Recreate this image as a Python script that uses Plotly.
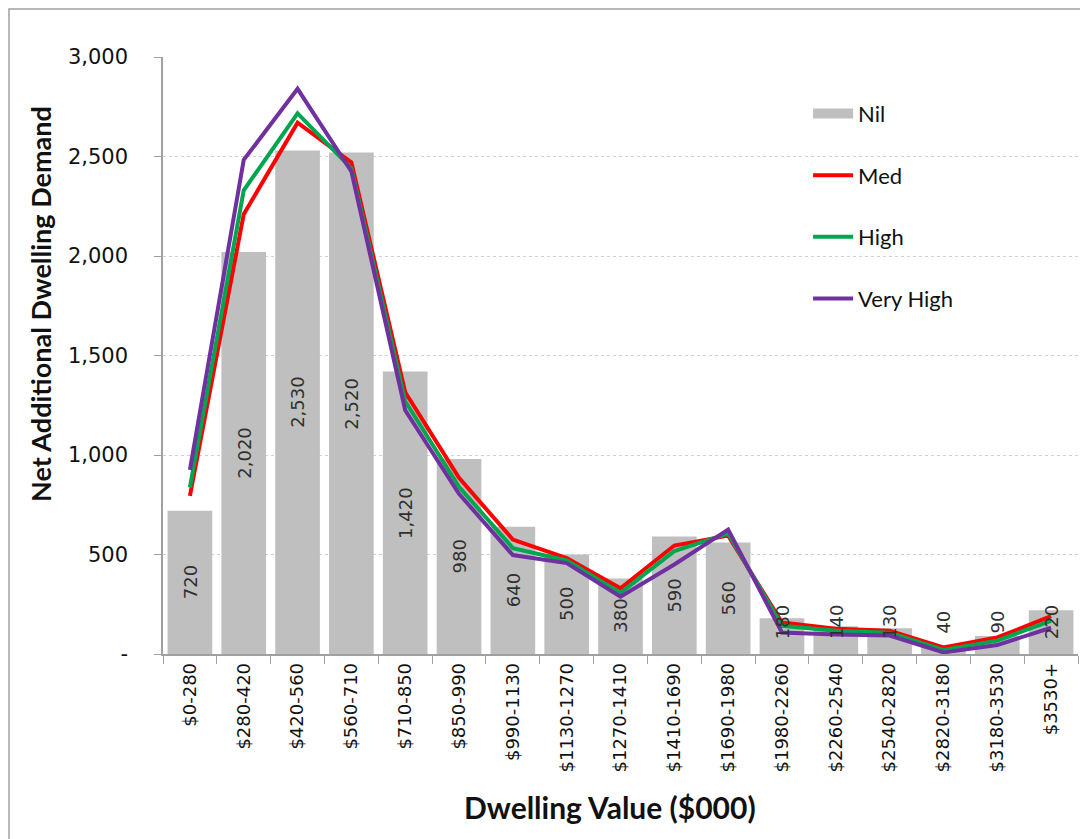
import plotly.graph_objects as go

categories = ["$0-280", "$280-420", "$420-560", "$560-710", "$710-850", "$850-990",
              "$990-1130", "$1130-1270", "$1270-1410", "$1410-1690", "$1690-1980",
              "$1980-2260", "$2260-2540", "$2540-2820", "$2820-3180", "$3180-3530", "$3530+"]
nil_values = [720, 2020, 2530, 2520, 1420, 980, 640, 500, 380, 590, 560, 180, 140, 130, 40, 90, 220]
med_values = [795, 2210, 2670, 2470, 1315, 885, 575, 482, 330, 545, 595, 158, 127, 117, 33, 83, 190]
high_values = [837, 2330, 2717, 2440, 1270, 840, 532, 470, 307, 517, 605, 142, 117, 107, 20, 67, 167]
vhigh_values = [925, 2483, 2840, 2425, 1225, 805, 497, 457, 288, 450, 625, 108, 98, 93, 8, 45, 132]
y_tick_vals = [0, 500, 1000, 1500, 2000, 2500, 3000]
y_tick_text = ["-", "500", "1,000", "1,500", "2,000", "2,500", "3,000"]
x_title = "Dwelling Value ($000)"
y_title = "Net Additional Dwelling Demand"

TICK_FONT = "DejaVu Sans"
TITLE_FONT = "Lato"
BAR_GREY = "#BFBFBF"

fig = go.Figure()
fig.add_trace(go.Bar(x=categories, y=nil_values, name="Nil", marker_color=BAR_GREY,
                     marker_line_width=0, showlegend=False))
# legend entry for the bars (wide grey swatch like the original)
fig.add_trace(go.Scatter(x=[None], y=[None], name="Nil", mode="lines",
                         line=dict(color=BAR_GREY, width=10), legendgroup="a"))
fig.add_trace(go.Scatter(x=categories, y=med_values, name="Med", mode="lines",
                         line=dict(color="#FF0000", width=4), legendgroup="b"))
fig.add_trace(go.Scatter(x=categories, y=high_values, name="High", mode="lines",
                         line=dict(color="#00A550", width=4), legendgroup="c"))
fig.add_trace(go.Scatter(x=categories, y=vhigh_values, name="Very High", mode="lines",
                         line=dict(color="#7030A0", width=4), legendgroup="d"))

# data labels, centred in bars (kept above the axis for short bars)
for c, v in zip(categories, nil_values):
    fig.add_annotation(x=c, y=max(v / 2, 160), text=f"{v:,}", textangle=-90,
                       showarrow=False, font=dict(family=TICK_FONT, size=18, color="#303030"))

# axis titles
fig.add_annotation(xref="paper", yref="paper", x=(610 - 163) / 915, y=-(807 - 654) / 597,
                   text=f"<b>{x_title}</b>", showarrow=False, xanchor="center", yanchor="middle",
                   font=dict(family=TITLE_FONT, size=30, color="#111"))
fig.add_annotation(xref="paper", yref="paper", x=(40 - 163) / 915, y=(654 - 304) / 597,
                   text=f"<b>{y_title}</b>", showarrow=False, textangle=-90,
                   xanchor="center", yanchor="middle",
                   font=dict(family=TITLE_FONT, size=27, color="#111"))

# outer chart frame (top/left edges visible)
fig.add_shape(type="rect", xref="paper", yref="paper",
              x0=(9 - 163) / 915, x1=1.2, y0=-0.5, y1=1 + (57 - 9) / 597,
              line=dict(color="#A0A0A0", width=1.5), fillcolor="rgba(0,0,0,0)", layer="below")

fig.update_layout(
    width=1080, height=831,
    margin=dict(l=155, r=10, t=49, b=185),
    paper_bgcolor="white", plot_bgcolor="white",
    bargap=0.17,
    showlegend=True,
    legend=dict(x=0.705, y=0.94, xanchor="left", yanchor="top",
                font=dict(family=TITLE_FONT, size=22, color="#111"),
                tracegroupgap=30, traceorder="grouped", itemwidth=40,
                bgcolor="rgba(255,255,255,0)"),
    xaxis=dict(
        type="category", tickangle=-90, tickson="boundaries",
        ticks="outside", ticklen=8, tickcolor="#A0A0A0",
        showline=True, linecolor="#A0A0A0", linewidth=1.5,
        tickfont=dict(family=TICK_FONT, size=18, color="#111"),
        range=[-0.5, len(categories) - 0.5],
    ),
    yaxis=dict(
        range=[0, 3000], tickvals=y_tick_vals, ticktext=y_tick_text,
        ticks="outside", ticklen=7, tickcolor="#A0A0A0",
        showline=True, linecolor="#A0A0A0", linewidth=1.5,
        showgrid=True, gridcolor="#D0D0D0", griddash="dot", gridwidth=1,
        zeroline=False,
        ticklabelstandoff=22,
        tickfont=dict(family=TICK_FONT, size=21, color="#111"),
    ),
)

fig.write_html("out.html")
